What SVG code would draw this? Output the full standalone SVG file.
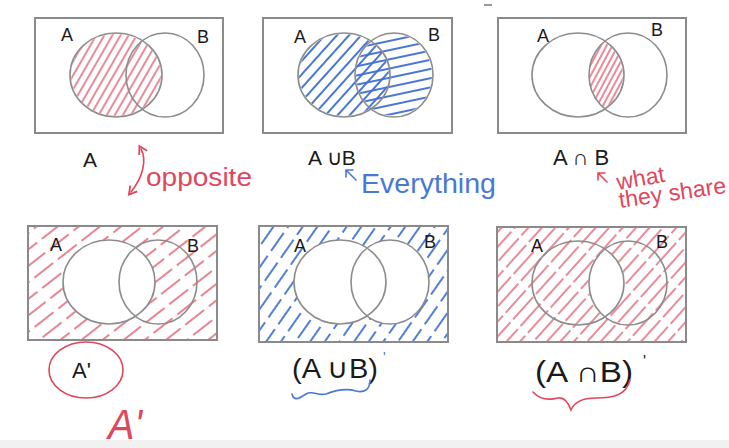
<svg xmlns="http://www.w3.org/2000/svg" width="729" height="448" viewBox="0 0 729 448">
<style>
.box{fill:none;stroke:#8a8a8a;stroke-width:2}
.cir{fill:none;stroke:#8c8c8c;stroke-width:1.6}
.lbl{font-family:"Liberation Sans",Arial,sans-serif;fill:#1a1a1a}
.red{font-family:"Liberation Sans",Arial,sans-serif;fill:#e0475c}
.blue{font-family:"Liberation Sans",Arial,sans-serif;fill:#4a78d6}
.rs{fill:none;stroke:#e0475c;stroke-width:1.6;stroke-linecap:round}
.bs{fill:none;stroke:#4a78d6;stroke-width:1.6;stroke-linecap:round}
</style>
<defs>
<pattern id="p1" patternUnits="userSpaceOnUse" width="7" height="20" patternTransform="rotate(30)"><line x1="3" y1="0" x2="3" y2="20" stroke="#e05a6e" stroke-width="1.4"/></pattern>
<pattern id="p2a" patternUnits="userSpaceOnUse" width="9" height="20" patternTransform="rotate(42)"><line x1="4" y1="0" x2="4" y2="20" stroke="#4070d4" stroke-width="1.9"/></pattern>
<pattern id="p2b" patternUnits="userSpaceOnUse" width="20" height="9" patternTransform="rotate(-12)"><line x1="0" y1="4" x2="20" y2="4" stroke="#4070d4" stroke-width="1.9"/></pattern>
<pattern id="p3" patternUnits="userSpaceOnUse" width="5" height="20" patternTransform="rotate(28)"><line x1="2" y1="0" x2="2" y2="20" stroke="#e05a6e" stroke-width="1.4"/></pattern>
<pattern id="p4" patternUnits="userSpaceOnUse" width="13" height="30" patternTransform="rotate(52)"><line x1="6" y1="0" x2="6" y2="24" stroke="#e05a6e" stroke-width="1.5"/></pattern>
<pattern id="p5" patternUnits="userSpaceOnUse" width="12" height="28" patternTransform="rotate(35)"><line x1="6" y1="0" x2="6" y2="22" stroke="#4070d4" stroke-width="1.8"/></pattern>
<pattern id="p6" patternUnits="userSpaceOnUse" width="10" height="34" patternTransform="rotate(42)"><line x1="5" y1="0" x2="5" y2="30" stroke="#e05a6e" stroke-width="1.4"/></pattern>
<clipPath id="c3b"><ellipse cx="628" cy="75" rx="39" ry="42"/></clipPath>
<mask id="m4"><rect x="28" y="226" width="189" height="114" fill="#fff"/><ellipse cx="109" cy="282" rx="46" ry="42" fill="#000"/></mask>
<mask id="m5"><rect x="259" y="226" width="189" height="116" fill="#fff"/><ellipse cx="340" cy="282" rx="46" ry="42" fill="#000"/><ellipse cx="390" cy="282" rx="39" ry="42" fill="#000"/></mask>
<marker id="ah" viewBox="0 0 10 10" refX="5" refY="5" markerWidth="7" markerHeight="7" orient="auto-start-reverse"><path d="M1 1 L8 5 L1 9" fill="none" stroke="#e0475c" stroke-width="1.6"/></marker>
</defs>
<rect width="729" height="448" fill="#fff"/>
<rect x="0" y="440" width="729" height="8" fill="#f1f1f1"/>
<path d="M484 5 L492 5" stroke="#777" stroke-width="1.5"/>

<g id="panel-a">
<ellipse cx="116" cy="75" rx="45" ry="41" fill="url(#p1)"/>
<rect class="box" x="35" y="18" width="188" height="115"/>
<ellipse class="cir" cx="116" cy="75" rx="46" ry="42"/>
<ellipse class="cir" cx="165" cy="75" rx="39" ry="42"/>
<text class="lbl" x="61" y="41" font-size="18">A</text>
<text class="lbl" x="197" y="43" font-size="18">B</text>
<text class="lbl" x="83" y="167" font-size="21">A</text>
<path class="rs" d="M141 149 C147 160 143 177 131 192" marker-start="url(#ah)" marker-end="url(#ah)"/>
<text class="red" x="146" y="186" font-size="26" textLength="106" lengthAdjust="spacingAndGlyphs">opposite</text>
</g>

<g id="panel-aub">
<ellipse cx="344" cy="75" rx="45" ry="41" fill="url(#p2a)"/>
<ellipse cx="394" cy="75" rx="38" ry="41" fill="url(#p2b)"/>
<rect class="box" x="263" y="18" width="189" height="115"/>
<ellipse class="cir" cx="344" cy="75" rx="46" ry="42"/>
<ellipse class="cir" cx="394" cy="75" rx="39" ry="42"/>
<text class="lbl" x="294" y="43" font-size="18">A</text>
<text class="lbl" x="428" y="41" font-size="18">B</text>
<text class="lbl" x="308" y="165" font-size="21">A ∪B</text>
<path class="bs" d="M356 180 L346 170 M346 170 L346 177 M346 170 L353 170"/>
<text class="blue" x="361" y="193" font-size="27" textLength="135" lengthAdjust="spacingAndGlyphs">Everything</text>
</g>

<g id="panel-anb">
<ellipse cx="578" cy="75" rx="45" ry="41" fill="url(#p3)" clip-path="url(#c3b)"/>
<rect class="box" x="498" y="18" width="188" height="115"/>
<ellipse class="cir" cx="578" cy="75" rx="46" ry="42"/>
<ellipse class="cir" cx="628" cy="75" rx="39" ry="42"/>
<text class="lbl" x="537" y="42" font-size="18">A</text>
<text class="lbl" x="651" y="36" font-size="18">B</text>
<text class="lbl" x="553" y="165" font-size="22">A ∩ B</text>
<path class="rs" d="M607 182 L598 173 M598 173 L598 180 M598 173 L605 173"/>
<text class="red" x="618" y="190" font-size="23" transform="rotate(-10 618 190)">what</text>
<text class="red" x="620" y="208" font-size="23" transform="rotate(-8 620 208)" textLength="108" lengthAdjust="spacingAndGlyphs">they share</text>
</g>

<g id="panel-a-comp">
<rect x="28" y="226" width="189" height="114" fill="url(#p4)" mask="url(#m4)"/>
<rect class="box" x="28" y="226" width="189" height="114"/>
<ellipse class="cir" cx="109" cy="282" rx="46" ry="42"/>
<ellipse class="cir" cx="158" cy="282" rx="39" ry="42"/>
<text class="lbl" x="50" y="251" font-size="18">A</text>
<text class="lbl" x="187" y="252" font-size="18">B</text>
<ellipse class="rs" cx="86" cy="370" rx="37" ry="28"/>
<text class="lbl" x="72" y="378" font-size="22">A'</text>
<text class="red" x="108" y="439" font-size="42" font-style="italic" textLength="34" lengthAdjust="spacingAndGlyphs">A'</text>
</g>

<g id="panel-aub-comp">
<rect x="259" y="226" width="189" height="116" fill="url(#p5)" mask="url(#m5)"/>
<rect class="box" x="259" y="226" width="189" height="116"/>
<ellipse class="cir" cx="340" cy="282" rx="46" ry="42"/>
<ellipse class="cir" cx="390" cy="282" rx="39" ry="42"/>
<text class="lbl" x="294" y="252" font-size="18">A</text>
<text class="lbl" x="424" y="248" font-size="18">B</text>
<text class="lbl" x="292" y="378" font-size="27" textLength="86" lengthAdjust="spacingAndGlyphs">(A ∪B)</text>
<text class="blue" x="383" y="362" font-size="14">'</text>
<path class="bs" d="M292 394 C294 402 300 398 306 394 C312 390 318 396 326 394 C336 390 346 388 356 391 C364 393 370 390 370 380"/>
</g>

<g id="panel-anb-comp">
<rect x="498" y="228" width="187" height="113" fill="url(#p6)"/>
<path d="M605 248.5 A39 42 0 0 0 605 317.5 A46 42 0 0 0 605 248.5 Z" fill="#fff"/>
<rect class="box" x="497" y="227" width="189" height="115"/>
<ellipse class="cir" cx="578" cy="283" rx="46" ry="42"/>
<ellipse class="cir" cx="628" cy="283" rx="39" ry="42"/>
<text class="lbl" x="531" y="252" font-size="18">A</text>
<text class="lbl" x="656" y="248" font-size="18">B</text>
<text class="lbl" x="535" y="382" font-size="29" textLength="98" lengthAdjust="spacingAndGlyphs">(A ∩B)</text>
<text class="lbl" x="643" y="367" font-size="16">'</text>
<path class="rs" d="M533 392 C540 400 550 400 558 398 C564 397 568 402 571 410 C575 400 585 398 596 398 C612 398 626 396 630 380"/>
</g>
</svg>
